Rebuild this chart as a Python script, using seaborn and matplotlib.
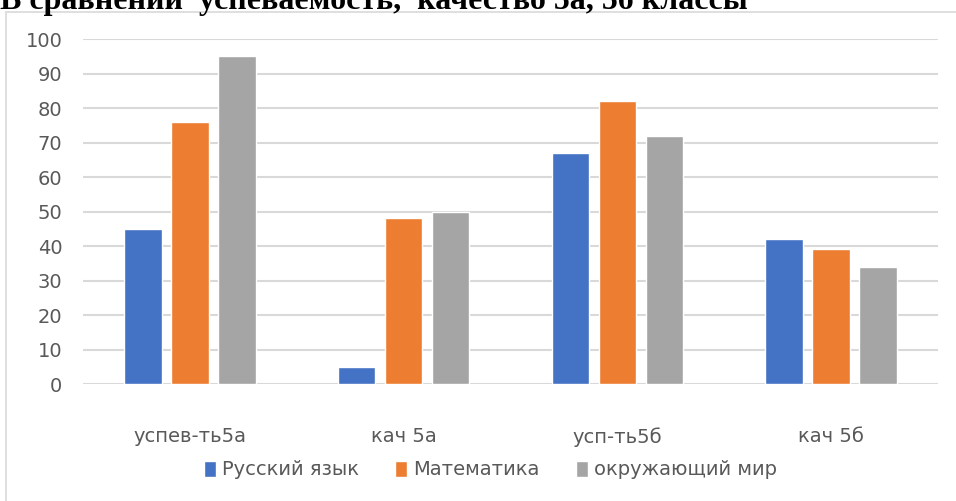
import pandas as pd
import matplotlib.pyplot as plt
import seaborn as sns
from matplotlib.patches import Rectangle

categories = ['успев-ть5а', 'кач 5а', 'усп-ть5б', 'кач 5б']
subjects = ['Русский язык', 'Математика', 'окружающий мир']
russian = [45, 5, 67, 42]
math = [76, 48, 82, 39]
world = [95, 50, 72, 34]
colors = ['#4472C4', '#ED7D31', '#A5A5A5']

df = pd.DataFrame({
    'cat': categories * 3,
    'subject': [s for s in subjects for _ in categories],
    'value': russian + math + world,
})

sns.set_theme(style='white')
plt.rcParams['font.family'] = ['Liberation Sans Narrow', 'DejaVu Sans']

fig = plt.figure(figsize=(9.56, 5.01), dpi=100)
ax = fig.add_axes([0.087, 0.2335, 0.894, 0.6885])

sns.barplot(data=df, x='cat', y='value', hue='subject', palette=colors,
            width=0.66, gap=0.21, ax=ax, saturation=1, legend=True)

ax.set_ylim(0, 100)
ax.set_yticks(range(0, 101, 10))
ax.yaxis.grid(True, color='#D9D9D9', linewidth=1.5)
ax.set_axisbelow(True)
for s in ax.spines.values():
    s.set_visible(False)
ax.set_xlabel('')
ax.set_ylabel('')
ax.tick_params(axis='y', length=0, labelsize=14, labelcolor='#595959', pad=15)
ax.tick_params(axis='x', length=0, labelsize=14, labelcolor='#595959', pad=31)
for lab in ax.get_yticklabels():
    lab.set_family(['DejaVu Sans'])

handles, labels = ax.get_legend_handles_labels()
ax.legend(handles, labels, loc='center', ncol=3, frameon=False, fontsize=14,
          labelcolor='#595959', handlelength=0.6, handleheight=0.9,
          handletextpad=0.3, columnspacing=1.9)
ax.get_legend().set_bbox_to_anchor((0.513, 0.062), transform=fig.transFigure)

# chart frame
fig.patches.append(Rectangle((0.006, -0.05), 1.1, 1.026, transform=fig.transFigure,
                             fill=False, edgecolor='#D9D9D9', linewidth=1.2))

fig.text(0.0, 0.982, 'В сравнении  успеваемость,  качество 5а, 5б классы',
         fontsize=23, fontweight='bold', family=['Liberation Serif', 'DejaVu Serif'],
         ha='left', va='baseline', color='black')

fig.savefig('out.png', dpi=100)
